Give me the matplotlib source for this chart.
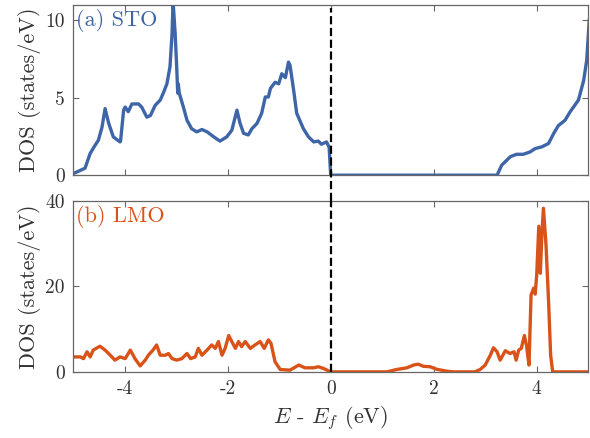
import matplotlib
matplotlib.use("Agg")
import matplotlib.pyplot as plt
import numpy as np

plt.rcParams['font.family'] = ['cmr10', 'DejaVu Serif']
plt.rcParams['mathtext.fontset'] = 'cm'
plt.rcParams['axes.unicode_minus'] = False

# STO total DOS (energy in eV relative to E_f, DOS in states/eV)
sto_e = [-5.0, -4.77, -4.67, -4.6, -4.51, -4.44, -4.38, -4.31, -4.22, -4.09, -4.08,
         -4.02, -3.99, -3.93, -3.86, -3.73, -3.67, -3.57, -3.5, -3.41, -3.31, -3.25,
         -3.18, -3.12, -3.08, -3.06, -3.02, -2.99, -2.97, -2.96, -2.94, -2.86, -2.79,
         -2.7, -2.6, -2.5, -2.4, -2.28, -2.15, -2.02, -1.92, -1.82, -1.76, -1.69,
         -1.6, -1.53, -1.43, -1.34, -1.27, -1.21, -1.17, -1.08, -1.01, -0.95, -0.88,
         -0.82, -0.79, -0.72, -0.66, -0.53, -0.43, -0.33, -0.24, -0.18, -0.08, -0.03,
         0.0, 3.23, 3.32, 3.49, 3.61, 3.74, 3.87, 3.97, 4.1, 4.23, 4.33, 4.42, 4.55,
         4.65, 4.81, 4.91, 4.97, 5.02]
sto_dos = [0.1, 0.45, 1.4, 1.8, 2.26, 3.1, 4.3, 3.35, 2.47, 2.15, 2.2,
           4.2, 4.4, 4.1, 4.6, 4.6, 4.4, 3.75, 3.85, 4.5, 4.85, 5.3,
           5.9, 7.0, 9.15, 11.2, 9.15, 7.0, 5.3, 5.9, 5.3, 4.4, 3.55,
           3.0, 2.8, 2.95, 2.8, 2.5, 2.2, 2.47, 2.9, 4.2, 3.35, 2.7,
           2.6, 3.0, 3.35, 4.0, 5.05, 5.05, 5.6, 6.0, 5.9, 6.55, 6.3,
           7.3, 7.1, 5.5, 4.0, 3.0, 2.47, 2.15, 2.2, 2.0, 2.15, 1.8,
           0.0, 0.0, 0.65, 1.2, 1.35, 1.35, 1.5, 1.72, 1.83, 2.05, 2.7, 3.2, 3.55,
           4.1, 4.85, 6.1, 7.4, 10.0]

# LMO total DOS
lmo_e = [-5.0, -4.86, -4.8, -4.73, -4.67, -4.61, -4.48, -4.38, -4.28, -4.19, -4.09,
         -3.99, -3.89, -3.8, -3.7, -3.6, -3.54, -3.45, -3.38, -3.31, -3.21, -3.15,
         -3.08, -2.99, -2.89, -2.79, -2.72, -2.63, -2.57, -2.5, -2.4, -2.31, -2.24,
         -2.18, -2.11, -2.05, -1.98, -1.92, -1.85, -1.79, -1.73, -1.66, -1.56, -1.47,
         -1.37, -1.29, -1.21, -1.16, -1.08, -0.98, -0.79, -0.62, -0.5, -0.33, -0.24,
         -0.14, 0.0, 1.09, 1.28, 1.48, 1.61, 1.7, 1.8, 1.93, 2.06, 2.26, 2.38, 2.8,
         2.9, 3.0, 3.1, 3.16, 3.23, 3.29, 3.39, 3.48, 3.56, 3.6, 3.65, 3.7, 3.76,
         3.8, 3.85, 3.89, 3.94, 3.97, 4.0, 4.04, 4.07, 4.1, 4.13, 4.18, 4.23, 4.27,
         4.31, 5.0]
lmo_dos = [3.5, 3.5, 3.1, 4.7, 3.5, 5.1, 6.0, 5.1, 3.9, 2.75, 3.5,
           3.1, 5.1, 3.1, 1.4, 2.75, 3.9, 5.1, 6.3, 3.9, 3.9, 4.3,
           3.1, 2.75, 3.1, 4.3, 3.1, 3.5, 5.5, 3.9, 5.1, 6.3, 5.5,
           7.1, 3.9, 5.5, 8.5, 7.1, 5.5, 7.1, 5.9, 7.1, 5.5, 6.3,
           7.1, 5.5, 7.5, 6.7, 2.35, 0.55, 0.4, 1.6, 0.95, 0.95, 1.2,
           0.8, 0.0, 0.0, 0.55, 0.95, 1.6, 1.8, 1.3, 1.2, 0.6, 0.15, 0.0, 0.0,
           0.55, 1.6, 3.9, 5.65, 4.7, 2.75, 4.95, 4.3, 4.7, 2.75, 5.1, 5.5, 8.5,
           6.3, 1.6, 18.0, 19.6, 18.2, 22.7, 34.1, 23.1, 32.2, 38.3, 29.8, 16.5, 3.9,
           0.0, 0.0]

xticks = [-4, -2, 0, 2, 4]
xtick_labels = ['-4', '-2', '0', '2', '4']

blue = '#3D65A8'
orange = '#D95319'
frame = '#666666'

fig = plt.figure(figsize=(5.9, 4.38), dpi=100)
ax1 = fig.add_axes([0.124, 0.600, 0.873, 0.389])
ax2 = fig.add_axes([0.124, 0.151, 0.873, 0.390])

ax1.plot(sto_e, sto_dos, color=blue, lw=2.4)
ax2.plot(lmo_e, lmo_dos, color=orange, lw=2.4)

ax1.set_ylim(0, 11)
ax1.set_yticks([0, 5, 10])
ax2.set_ylim(0, 40)
ax2.set_yticks([0, 20, 40])

for ax in (ax1, ax2):
    ax.set_xlim(-5, 5)
    ax.set_xticks(xticks)
    ax.tick_params(direction='in', top=True, right=True, length=4,
                   color=frame, labelcolor='#333333', labelsize=14, pad=6)
    for sp in ax.spines.values():
        sp.set_color(frame)
        sp.set_linewidth(0.9)
    ax.set_ylabel('DOS (states/eV)', fontsize=16, color='#333333', labelpad=3)

ax1.set_xticklabels([])
ax2.set_xticklabels(xtick_labels)
ax2.set_xlabel(r'$E$ - $E_f$ (eV)', fontsize=16, color='#333333', labelpad=4)

# Fermi level, running through both panels
ax1.axvline(0, ymin=-0.152, ymax=0.98, color='k', ls='--', lw=1.6, clip_on=False, zorder=5)
ax2.axvline(0, ymin=0, ymax=1, color='k', ls='--', lw=1.6, zorder=5)

ax1.text(0.005, 0.975, '(a) STO', transform=ax1.transAxes, color=blue,
         fontsize=16, ha='left', va='top')
ax2.text(0.005, 0.975, '(b) LMO', transform=ax2.transAxes, color=orange,
         fontsize=16, ha='left', va='top')

fig.savefig('out.png', dpi=100)
